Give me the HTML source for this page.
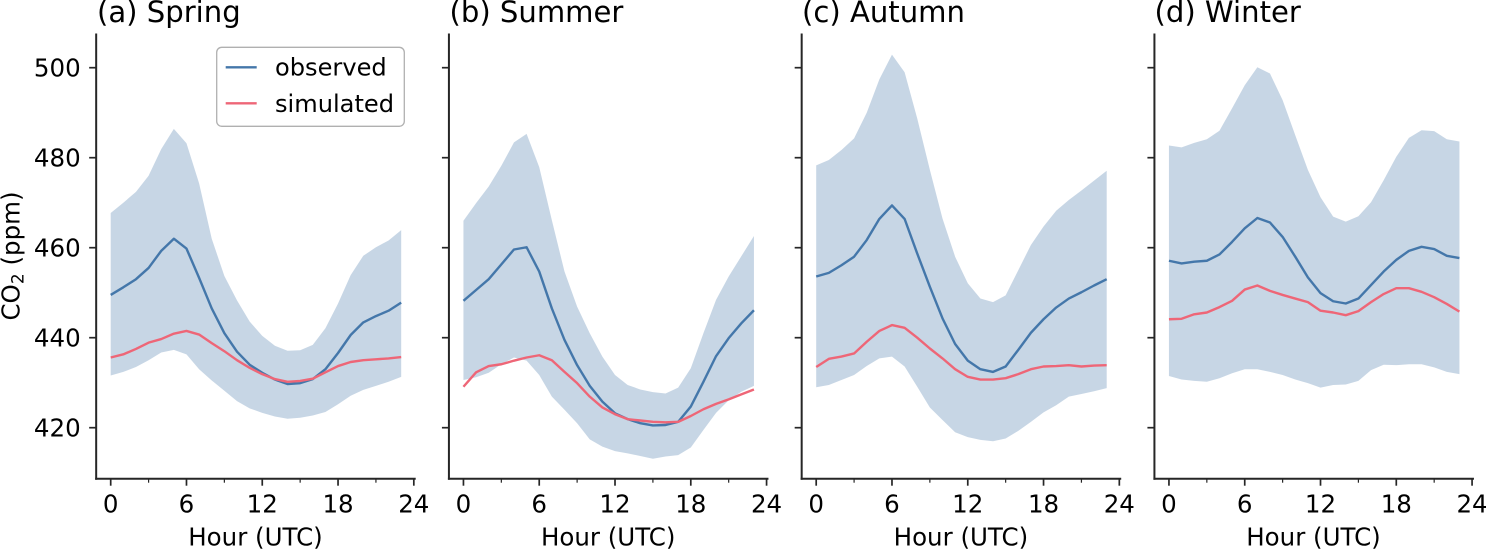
<!DOCTYPE html>
<html lang="en">
<head>
<meta charset="utf-8">
<title>CO2 diurnal cycle by season</title>
<style>
html,body{margin:0;padding:0;background:#fff;}
svg{display:block;}
text{font-family:"DejaVu Sans","Liberation Sans",sans-serif;fill:#000;}
.tick{font-size:24.5px;}
.axis{font-size:24.5px;}
.legend-text{font-size:24.1px;}
.title{font-size:29.1px;}
</style>
</head>
<body>
<svg id="chart" xmlns="http://www.w3.org/2000/svg" width="1486" height="550" viewBox="0 0 1486 550">
  <g id="plots"></g>
  <text class="title" x="97" y="22">(a) Spring</text>
  <text class="title" x="449.5" y="22">(b) Summer</text>
  <text class="title" x="802" y="22">(c) Autumn</text>
  <text class="title" x="1154.5" y="22">(d) Winter</text>
  <text class="axis" x="255.5" y="545.5" text-anchor="middle">Hour (UTC)</text>
  <text class="axis" x="608.2" y="545.5" text-anchor="middle">Hour (UTC)</text>
  <text class="axis" x="960.9" y="545.5" text-anchor="middle">Hour (UTC)</text>
  <text class="axis" x="1313.5" y="545.5" text-anchor="middle">Hour (UTC)</text>
  <text class="axis" transform="translate(19.5,256) rotate(-90)" text-anchor="middle">CO<tspan font-size="17" dy="4">2</tspan><tspan dy="-4"> (ppm)</tspan></text>
  <g>
    <rect x="216.7" y="47.3" width="187.6" height="79" rx="5" ry="5" fill="#fff" fill-opacity="0.8" stroke="#b0b0b0" stroke-width="1.3"/>
    <line x1="225.7" x2="256.7" y1="67.3" y2="67.3" stroke="#4477aa" stroke-width="2.4"/>
    <text class="legend-text" x="275" y="75.7">observed</text>
    <line x1="225.7" x2="256.7" y1="103.3" y2="103.3" stroke="#ee6677" stroke-width="2.4"/>
    <text class="legend-text" x="275" y="112">simulated</text>
  </g>
</svg>
<script>
const hours = [0,1,2,3,4,5,6,7,8,9,10,11,12,13,14,15,16,17,18,19,20,21,22,23];
const xTickValues = [0,6,12,18,24];
const xMinorTickValues = [3,9,15,21];
const yTickValues = [420,440,460,480,500];

const panelNames = ['spring','summer','autumn','winter'];

const springUpper = [467.7,470,472.4,476,481.9,486.4,483.2,474.3,462,453.7,448.3,443.6,440.4,438.2,437.1,437.2,438.4,442.1,447.6,453.9,458.2,460.1,461.6,463.9];
const springLower = [431.6,432.4,433.5,435,436.7,437.3,436.3,433,430.5,428.2,425.9,424.3,423.3,422.5,422,422.2,422.7,423.5,425.2,427.1,428.4,429.3,430.2,431.3];
const springObserved = [449.5,451.2,453,455.5,459.3,462,459.8,453.3,446.5,441,436.9,434,432.2,430.7,429.7,429.9,430.8,433,436.6,440.6,443.4,444.8,446,447.8];
const springSimulated = [435.6,436.3,437.5,438.9,439.7,440.9,441.5,440.7,438.8,437,435,433.3,431.9,430.8,430.2,430.4,430.9,432.3,433.7,434.6,435,435.2,435.4,435.7];

const summerUpper = [466,469.9,473.6,478.2,483.4,485.3,477.9,466.1,454.7,446.9,441,435.8,431.7,429.5,428.5,427.9,427.6,428.9,433.2,441,448.4,453.6,458.1,462.6];
const summerLower = [430.6,431.2,432.2,434.1,435.6,434.9,431.7,426.9,424,421,417.4,415.8,414.8,414.3,413.7,413.1,413.6,413.9,415.6,419.5,423.3,426.1,428,429.3];
const summerObserved = [448.2,450.6,453,456.3,459.6,460.1,454.7,446.5,439.5,433.9,429.3,425.8,423.2,421.9,421,420.5,420.6,421.3,424.7,430.2,435.9,439.9,443.2,446.1];
const summerSimulated = [429.1,432.3,433.7,434.1,434.9,435.6,436.1,435,432.4,429.9,426.9,424.5,423,421.9,421.6,421.3,421.2,421.3,422.6,424.1,425.3,426.3,427.4,428.5];

const autumnUpper = [478.3,479.5,481.7,484.3,490,497.4,502.9,499,488.7,477.3,466.5,458,452.1,448.7,447.9,449.4,455,460.6,464.7,468.2,470.6,472.7,474.9,477.1];
const autumnLower = [429,429.5,430.6,431.7,433.7,435.4,435.8,433.6,429.1,424.5,421.7,419,417.9,417.3,417,417.6,419.3,421.3,423.4,425,426.9,427.5,428.1,428.8];
const autumnObserved = [453.6,454.4,456.1,458,461.7,466.4,469.4,466.4,458.7,451.3,444.3,438.6,434.9,433,432.4,433.6,437.3,441.1,444.1,446.7,448.7,450.1,451.6,453];
const autumnSimulated = [433.5,435.3,435.8,436.5,439.1,441.5,442.8,442.2,440,437.6,435.4,433,431.3,430.7,430.7,431,431.9,433,433.6,433.7,433.9,433.6,433.8,433.9];

const winterUpper = [482.7,482.3,483.3,484.1,486,491,496.1,500.1,498.7,492.8,485,477.3,471.2,466.9,465.8,467,470.1,475,480.2,484.4,486.1,485.9,484.1,483.6];
const winterLower = [431.5,430.7,430.4,430.2,431,432.1,433,433,432.4,431.7,430.7,429.9,428.9,429.5,429.6,430.4,432.8,434,433.9,434.1,434.1,433.4,432.4,431.9];
const winterObserved = [457.1,456.5,456.9,457.1,458.5,461.3,464.3,466.6,465.6,462.4,458,453.4,449.9,448.1,447.6,448.7,451.7,454.7,457.3,459.3,460.2,459.7,458.2,457.7];
const winterSimulated = [444.1,444.2,445.2,445.6,446.8,448.2,450.7,451.6,450.4,449.5,448.7,447.9,446,445.6,445,445.9,447.9,449.7,451,451,450.2,449,447.5,445.8];

const panelUpper = [springUpper, summerUpper, autumnUpper, winterUpper];
const panelLower = [springLower, summerLower, autumnLower, winterLower];
const panelObserved = [springObserved, summerObserved, autumnObserved, winterObserved];
const panelSimulated = [springSimulated, summerSimulated, autumnSimulated, winterSimulated];

const NS = 'http://www.w3.org/2000/svg';
const root = document.getElementById('plots');
const spineColor = '#262626';

function xAxis(panel, hour) { return 110.7 + panel * 352.75 + hour * 12.63; }
function yAxis(value) { return 427.7 - (value - 420) * 4.5; }
function coordinate(panel, hour, value) { return xAxis(panel, hour).toFixed(2) + ',' + yAxis(value).toFixed(2); }

function make(tag, attrs, parent) {
  const el = document.createElementNS(NS, tag);
  for (const k in attrs) el.setAttribute(k, attrs[k]);
  parent.appendChild(el);
  return el;
}

panelNames.forEach(function (name, p) {
  const g = make('g', {}, root);
  
  

  const upperPts = hours.map(function (h, i) { return coordinate(p, h, panelUpper[p][i]); });
  const lowerPts = hours.map(function (h, i) { return coordinate(p, h, panelLower[p][i]); }).reverse();
  const band = make('polygon', { points: upperPts.concat(lowerPts).join(' '), fill: '#4477aa', 'fill-opacity': 0.3 }, g);
  
  

  const obs = make('polyline', { points: hours.map(function (h, i) { return coordinate(p, h, panelObserved[p][i]); }).join(' '), fill: 'none', stroke: '#4477aa', 'stroke-width': 2.4, 'stroke-linejoin': 'round' }, g);
  
  

  const sim = make('polyline', { points: hours.map(function (h, i) { return coordinate(p, h, panelSimulated[p][i]); }).join(' '), fill: 'none', stroke: '#ee6677', 'stroke-width': 2.4, 'stroke-linejoin': 'round' }, g);
  
  

  const left = xAxis(p, -1.15);
  const right = xAxis(p, 24.15);
  const bottom = 478.7;

  const ySpine = make('line', { x1: left, x2: left, y1: 33.5, y2: bottom + 1, stroke: spineColor, 'stroke-width': 2 }, g);
  
  

  const xSpine = make('line', { x1: left - 1, x2: right, y1: bottom, y2: bottom, stroke: spineColor, 'stroke-width': 2 }, g);
  
  

  yTickValues.forEach(function (v) {
    const t = make('line', { x1: left - 7, x2: left, y1: yAxis(v), y2: yAxis(v), stroke: spineColor, 'stroke-width': 1.7 }, g);
    
    
    if (p === 0) {
      const l = make('text', { class: 'tick', x: left - 15.5, y: yAxis(v) + 8.9, 'text-anchor': 'end' }, g);
      l.textContent = String(v);
      
      
    }
  });

  xTickValues.forEach(function (v) {
    const t = make('line', { x1: xAxis(p, v), x2: xAxis(p, v), y1: bottom, y2: bottom + 7, stroke: spineColor, 'stroke-width': 1.7 }, g);
    
    
    const l = make('text', { class: 'tick', x: xAxis(p, v), y: 512.3, 'text-anchor': 'middle' }, g);
    l.textContent = String(v);
    
    
  });

  xMinorTickValues.forEach(function (v) {
    const t = make('line', { x1: xAxis(p, v), x2: xAxis(p, v), y1: bottom, y2: bottom + 4, stroke: spineColor, 'stroke-width': 1.2 }, g);
    
    
  });
});
</script>
</body>
</html>
